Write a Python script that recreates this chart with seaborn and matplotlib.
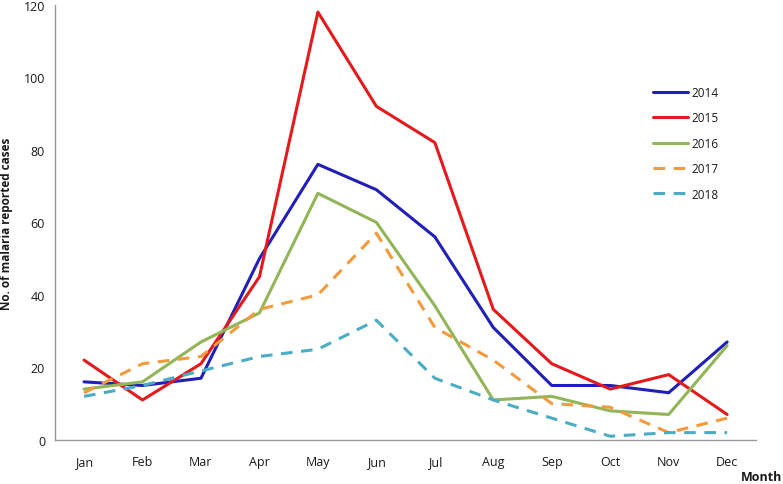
import matplotlib
matplotlib.use("Agg")
import matplotlib.pyplot as plt
import seaborn as sns
import pandas as pd
import numpy as np

months = ["Jan", "Feb", "Mar", "Apr", "May", "Jun", "Jul", "Aug", "Sep", "Oct", "Nov", "Dec"]
cases_2014 = [16, 15, 17, 50, 76, 69, 56, 31, 15, 15, 13, 27]
cases_2015 = [22, 11, 21, 45, 118, 92, 82, 36, 21, 14, 18, 7]
cases_2016 = [14, 16, 27, 35, 68, 60, 37, 11, 12, 8, 7, 26]
cases_2017 = [13, 21, 23, 36, 40, 57, 31, 22, 10, 9, 2, 6]
cases_2018 = [12, 15, 19, 23, 25, 33, 17, 11, 6, 1, 2, 2]
years = ["2014", "2015", "2016", "2017", "2018"]
y_ticks = [0, 20, 40, 60, 80, 100, 120]

series = [cases_2014, cases_2015, cases_2016, cases_2017, cases_2018]
rows = []
for yr, vals in zip(years, series):
    for i, (m, v) in enumerate(zip(months, vals)):
        rows.append({"Year": yr, "MonthIdx": i, "Month": m, "Cases": v})
df = pd.DataFrame(rows)

sns.set_style("white")
plt.rcParams["font.family"] = ["Open Sans", "DejaVu Sans"]
plt.rcParams["text.color"] = "#1a1a1a"
plt.rcParams["xtick.color"] = "#1a1a1a"
plt.rcParams["ytick.color"] = "#1a1a1a"
plt.rcParams["axes.labelcolor"] = "#1a1a1a"

palette = {"2014": "#2020B8", "2015": "#E41A1C", "2016": "#92B558",
           "2017": "#F39A3C", "2018": "#4BACC6"}
dashes = {"2014": "", "2015": "", "2016": "", "2017": (3.8, 2.8), "2018": (3.8, 2.8)}

fig = plt.figure(figsize=(7.83, 4.85), dpi=100)
ax = fig.add_axes([0.070, 0.091, 0.896, 0.897])

sns.lineplot(data=df, x="MonthIdx", y="Cases", hue="Year", style="Year",
             palette=palette, dashes=dashes, linewidth=2.2, ax=ax,
             hue_order=years, style_order=years)

ax.set_xlim(-0.5, 11.5)
ax.set_ylim(0, 120)
ax.set_yticks(y_ticks)
ax.set_xticks(np.arange(12))
ax.set_xticklabels(months, fontsize=9)
ax.set_xticks(np.arange(-0.5, 12, 1), minor=True)
ax.tick_params(axis="x", which="major", length=0, pad=11, colors="#1a1a1a")
ax.tick_params(axis="x", which="minor", length=5, color="#999999", width=1)
ax.tick_params(axis="y", length=4, color="#999999", width=1, labelsize=9, pad=3,
               labelcolor="#1a1a1a")

for s in ["top", "right"]:
    ax.spines[s].set_visible(False)
for s in ["left", "bottom"]:
    ax.spines[s].set_color("#999999")
    ax.spines[s].set_linewidth(1)

ax.set_xlabel("")
ax.set_ylabel("No. of malaria reported cases", fontsize=8.5, fontweight="bold", labelpad=8)
fig.text(0.999, 0.016, "Month", ha="right", va="center", fontsize=9, fontweight="bold")

leg = ax.legend(loc="upper left", bbox_to_anchor=(0.838, 0.838), frameon=False,
                fontsize=8.5, handlelength=2.9, handletextpad=0.3, labelspacing=1.05)
for h in leg.get_lines():
    h.set_linewidth(2.2)

fig.savefig("out.png", dpi=100)
